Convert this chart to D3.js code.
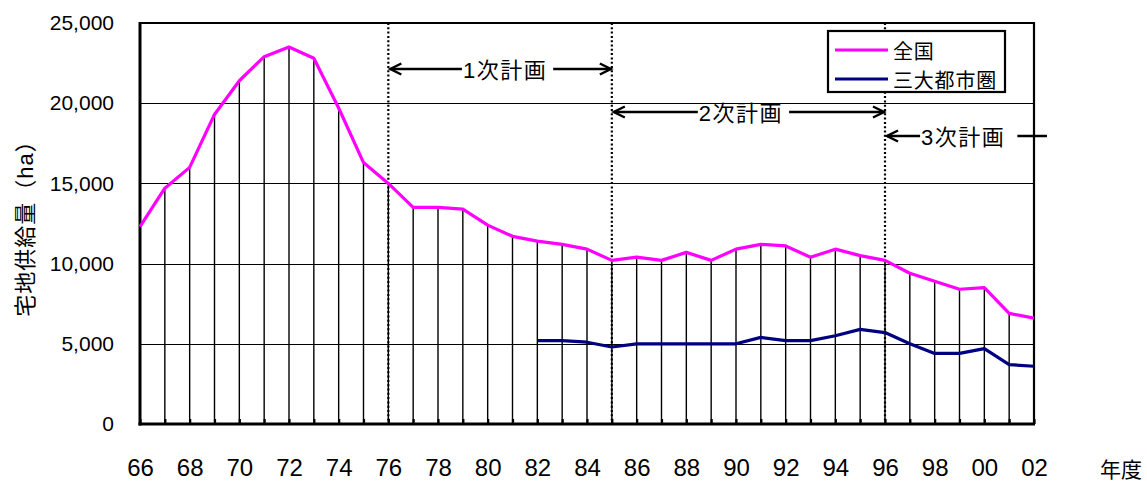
<!DOCTYPE html>
<html>
<head>
<meta charset="utf-8">
<script src="https://cdn.jsdelivr.net/npm/d3@7"></script>
<style>
  body { margin: 0; background: #fff; }
  svg { display: block; }
  text { font-family: "Liberation Sans", Arial, "Noto Sans CJK JP", sans-serif; fill: #000; }
</style>
</head>
<body>
<svg id="chart" width="1147" height="485"></svg>
<script>
// Fiscal years (two-digit labels)
const years = ["66","67","68","69","70","71","72","73","74","75","76","77","78","79",
  "80","81","82","83","84","85","86","87","88","89","90","91","92","93","94","95",
  "96","97","98","99","00","01","02"];

// 全国 (ha)
const zenkoku = [12300,14700,16000,19300,21400,22900,23500,22800,19700,16300,
  15000,13500,13500,13400,12400,11700,11400,11200,10900,10200,
  10400,10200,10700,10200,10900,11200,11100,10400,10900,10500,
  10200,9400,8900,8400,8500,6900,6600];

// 三大都市圏 (ha), no figures before 82
const sandai = [null,null,null,null,null,null,null,null,null,null,
  null,null,null,null,null,null,5200,5200,5100,4800,
  5000,5000,5000,5000,5000,5400,5200,5200,5500,5900,
  5700,5000,4400,4400,4700,3700,3600];

const yTicks = [0, 5000, 10000, 15000, 20000, 25000];
const gridValues = [5000, 10000, 15000, 20000];
const xLabelYears = ["66","68","70","72","74","76","78","80","82","84","86","88","90",
  "92","94","96","98","00","02"];

const seriesNames = ["全国", "三大都市圏"];
const seriesColors = ["#ff00ff", "#000080"];

const planNames = ["1次計画", "2次計画", "3次計画"];
const planStarts = ["76", "85", "96"];
const planEnds = ["85", "96", null];

const svg = d3.select("#chart");
const plot = { left: 140, right: 1034, top: 23, bottom: 424 };

const x = d3.scalePoint().domain(years).range([plot.left, plot.right]);
const y = d3.scaleLinear().domain([0, 25000]).range([plot.bottom, plot.top]);

// horizontal gridlines
svg.append("g").selectAll("line").data(gridValues).join("line")
  .attr("x1", plot.left).attr("x2", plot.right)
  .attr("y1", d => Math.round(y(d)) + 0.5).attr("y2", d => Math.round(y(d)) + 0.5)
  .attr("stroke", "#000").attr("stroke-width", 1);

// drop lines from each 全国 point to the baseline
svg.append("g").selectAll("line").data(years).join("line")
  .attr("x1", d => x(d)).attr("x2", d => x(d))
  .attr("y1", (d, i) => y(zenkoku[i])).attr("y2", y(0))
  .attr("stroke", "#000").attr("stroke-width", 1.4);

// plan boundaries (dotted)
svg.append("g").selectAll("line").data(planStarts).join("line")
  .attr("x1", d => x(d)).attr("x2", d => x(d))
  .attr("y1", plot.top).attr("y2", plot.bottom)
  .attr("stroke", "#000").attr("stroke-width", 2.2)
  .attr("stroke-dasharray", "2,2.3");

// frame
svg.append("line").attr("x1", plot.left).attr("x2", plot.right)
  .attr("y1", plot.top).attr("y2", plot.top).attr("stroke", "#000").attr("stroke-width", 2.2);
svg.append("line").attr("x1", plot.right).attr("x2", plot.right)
  .attr("y1", plot.top - 1).attr("y2", plot.bottom).attr("stroke", "#000").attr("stroke-width", 2.2);
svg.append("line").attr("x1", plot.left).attr("x2", plot.left)
  .attr("y1", plot.top - 1).attr("y2", plot.bottom + 1.5).attr("stroke", "#000").attr("stroke-width", 3);

// series lines
const series = [zenkoku, sandai];
const lineGen = d3.line()
  .defined(d => d.v != null)
  .x(d => x(d.year)).y(d => y(d.v));
series.forEach((vals, k) => {
  svg.append("path")
    .datum(years.map((yr, i) => ({ year: yr, v: vals[i] })))
    .attr("d", lineGen)
    .attr("fill", "none")
    .attr("stroke", seriesColors[k])
    .attr("stroke-width", 3.2)
    .attr("stroke-linejoin", "round");
});

// y axis labels
const yAxis = svg.append("g").attr("transform", `translate(${plot.left},0)`)
  .call(d3.axisLeft(y).tickValues(yTicks).tickSize(0).tickPadding(26).tickFormat(d3.format(",")));
yAxis.select(".domain").remove();
yAxis.selectAll("text").style("font-size", "21px")
  .style("font-family", "\"Liberation Sans\", Arial, sans-serif");

// x axis: inward ticks every year, labels every other year
const xAxis = svg.append("g").attr("transform", `translate(0,${plot.bottom})`)
  .call(d3.axisBottom(x).tickSizeInner(-5).tickSizeOuter(0).tickPadding(35)
    .tickFormat(d => xLabelYears.includes(d) ? d : ""));
xAxis.select(".domain").attr("stroke", "#000").attr("stroke-width", 3)
  .attr("d", `M${plot.left - 1.5},0H${plot.right + 1}`);
xAxis.selectAll(".tick line").attr("stroke", "#000").attr("stroke-width", 2.2);
xAxis.selectAll("text").style("font-size", "24px")
  .style("font-family", "\"Liberation Sans\", Arial, sans-serif");

// axis titles
svg.append("text")
  .attr("transform", "translate(33,223) rotate(-90)")
  .attr("text-anchor", "middle")
  .style("font-size", "22px")
  .style("letter-spacing", "1px")
  .text("宅地供給量（ha）");
svg.append("text")
  .attr("x", 1100).attr("y", 477)
  .style("font-size", "21px")
  .text("年度");

// plan period annotations
function arrowHead(g, tipX, tipY, dir) {
  g.append("path")
    .attr("d", `M${tipX + dir * 11},${tipY - 5.5}L${tipX},${tipY}L${tipX + dir * 11},${tipY + 5.5}`)
    .attr("fill", "none").attr("stroke", "#000").attr("stroke-width", 2.5)
    .attr("stroke-linejoin", "miter");
}
const planRowY = [69, 112, 136];
const planTextYear = [80.7, 90.2, 99.15];
const planGap = 6;
const ann = svg.append("g");
const yearSpan = (plot.right - plot.left) / (years.length - 1);
planNames.forEach((name, i) => {
  const rowY = planRowY[i];
  const xl = x(planStarts[i]) + 2;
  const cx = plot.left + (planTextYear[i] - 66) * yearSpan;
  const t = ann.append("text")
    .attr("x", cx).attr("y", rowY + 8.5)
    .attr("text-anchor", "middle")
    .style("font-size", "22px")
    .style("letter-spacing", "1.5px")
    .text(name);
  const w = t.node().getComputedTextLength();
  const tl = cx - w / 2, tr = cx + w / 2;
  ann.append("line").attr("x1", xl).attr("x2", tl - 1).attr("y1", rowY).attr("y2", rowY)
    .attr("stroke", "#000").attr("stroke-width", 2.5);
  arrowHead(ann, xl, rowY, 1);
  if (planEnds[i] != null) {
    const xr = x(planEnds[i]) - 1;
    ann.append("line").attr("x1", tr + planGap).attr("x2", xr).attr("y1", rowY).attr("y2", rowY)
      .attr("stroke", "#000").attr("stroke-width", 2.5);
    arrowHead(ann, xr, rowY, -1);
  } else {
    ann.append("line").attr("x1", tr + 12).attr("x2", plot.right + 13).attr("y1", rowY).attr("y2", rowY)
      .attr("stroke", "#000").attr("stroke-width", 2.5);
  }
});

// legend
const legend = svg.append("g").attr("transform", "translate(828,31)");
legend.append("rect").attr("width", 177).attr("height", 61)
  .attr("fill", "#fff").attr("stroke", "#000").attr("stroke-width", 2.2);
seriesNames.forEach((name, i) => {
  const ly = 19 + i * 29;
  legend.append("line").attr("x1", 7).attr("x2", 60).attr("y1", ly).attr("y2", ly)
    .attr("stroke", seriesColors[i]).attr("stroke-width", 3.2);
  legend.append("text").attr("x", 65).attr("y", ly + 9)
    .style("font-size", "20px").style("letter-spacing", "0.8px").text(name);
});
</script>
</body>
</html>
